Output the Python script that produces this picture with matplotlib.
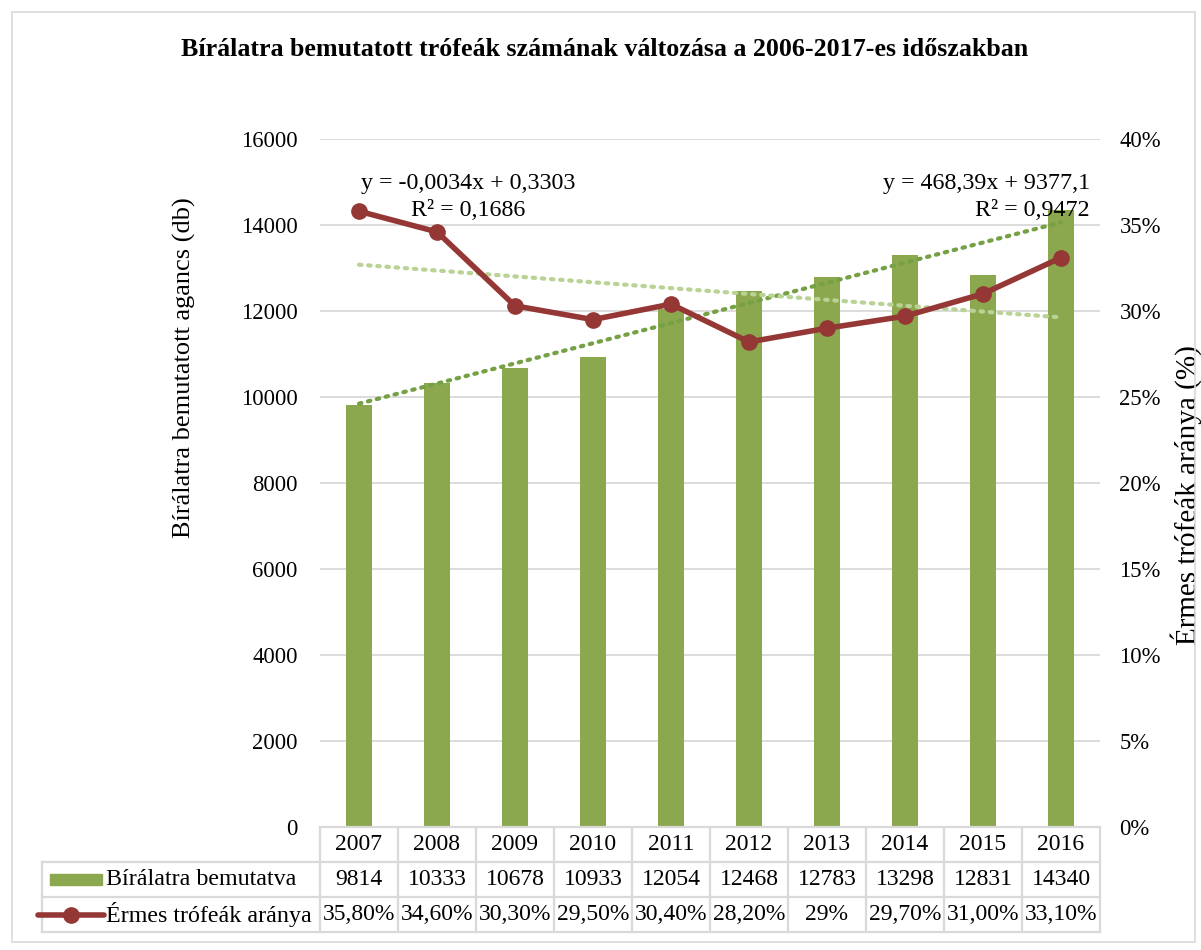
import matplotlib
matplotlib.use("Agg")
import matplotlib.pyplot as plt
import numpy as np

plt.rcParams['font.family'] = ['Liberation Serif', 'DejaVu Serif']

years = ['2007', '2008', '2009', '2010', '2011', '2012', '2013', '2014', '2015', '2016']
bemutatva = [9814, 10333, 10678, 10933, 12054, 12468, 12783, 13298, 12831, 14340]
ermes = [0.358, 0.346, 0.303, 0.295, 0.304, 0.282, 0.29, 0.297, 0.31, 0.331]
ermes_txt = ['35,80%', '34,60%', '30,30%', '29,50%', '30,40%', '28,20%', '29%', '29,70%', '31,00%', '33,10%']

bar_col = '#8ba84e'
line_col = '#953735'
trend_dark = '#76a044'
trend_light = '#b8d394'
grid_col = '#d9d9d9'

fig = plt.figure(figsize=(12.01, 9.5), dpi=100)
# outer chart border
fig.patches.append(plt.Rectangle((12/1201, 8/950), 1183/1201, 930/950, transform=fig.transFigure,
                                 fill=False, edgecolor=grid_col, linewidth=1.2))

ax = fig.add_axes([320/1201, 123/950, 780/1201, 688/950])
x = np.arange(len(years))
ax.bar(x, bemutatva, width=0.33, color=bar_col, zorder=2)
ax.set_xlim(-0.5, 9.5)
ax.set_ylim(0, 16000)
ax.set_yticks(np.arange(0, 16001, 2000))
ax.tick_params(axis='y', length=0, labelsize=16.3, pad=16)
ax.set_xticks([])
ax.grid(axis='y', color=grid_col, linewidth=1.3, zorder=0)
for s in ax.spines.values():
    s.set_visible(False)
ax.set_ylabel('Bírálatra bemutatott agancs (db)', fontsize=19, va='center')
ax.yaxis.set_label_coords(-136/780, (827 - 368) / 688)

# linear trend for bars (x = 1..10)
n = np.arange(1, len(years) + 1)
k1, b1 = np.polyfit(n, bemutatva, 1)
ax.plot(x, k1 * n + b1, linestyle=(0, (0.6, 1.6)), dash_capstyle='round', color=trend_dark, linewidth=3, zorder=3)

ax2 = ax.twinx()
ax2.set_ylim(0, 0.4)
ax2.set_yticks(np.arange(0, 0.41, 0.05))
ax2.set_yticklabels([f'{int(round(v*100))}%' for v in np.arange(0, 0.41, 0.05)])
ax2.tick_params(axis='y', length=0, labelsize=16.3, pad=14)
for s in ax2.spines.values():
    s.set_visible(False)
ax2.set_ylabel('Érmes trófeák aránya (%)', fontsize=21, va='center')
ax2.yaxis.set_label_coords(1 + 86/780, (827 - 495) / 688)

k2, b2 = np.polyfit(n, ermes, 1)
ax2.plot(x, k2 * n + b2, linestyle=(0, (0.6, 1.6)), dash_capstyle='round', color=trend_light, linewidth=3, zorder=2)
ax2.plot(x, ermes, color=line_col, linewidth=4, marker='o', markersize=11, zorder=4)

# trend equations
eq_fs = 17.3
ax.text(1.4, 1 - 44/688, f'y = {k2:.4f}x + {b2:.4f}'.replace('.', ','), transform=ax.get_xaxis_transform(),
        ha='center', va='center', fontsize=eq_fs)
ax.text(1.4, 1 - 72/688, 'R² = 0,1686', transform=ax.get_xaxis_transform(),
        ha='center', va='center', fontsize=eq_fs)
ax.text(9.37, 1 - 44/688, f'y = {k1:.2f}x + {b1:.1f}'.replace('.', ','), transform=ax.get_xaxis_transform(),
        ha='right', va='center', fontsize=eq_fs)
ax.text(9.37, 1 - 72/688, 'R² = 0,9472', transform=ax.get_xaxis_transform(),
        ha='right', va='center', fontsize=eq_fs)

# data table below the plot
tr = ax.get_xaxis_transform()
rh = 35 / 688
left = (42 - 320) / 78 - 0.5
lw = 1.6
ys = [0, -rh, -2 * rh, -3 * rh]
ax.plot([-0.5, 9.5], [0, 0], color=grid_col, lw=lw, transform=tr, clip_on=False)
for yy in ys[1:]:
    ax.plot([left, 9.5], [yy, yy], color=grid_col, lw=lw, transform=tr, clip_on=False)
for i in range(len(years) + 1):
    ax.plot([i - 0.5, i - 0.5], [0, ys[3]], color=grid_col, lw=lw, transform=tr, clip_on=False)
ax.plot([left, left], [ys[1], ys[3]], color=grid_col, lw=lw, transform=tr, clip_on=False)

tfs = 17
for i in range(len(years)):
    ax.text(i, -0.5 * rh, years[i], transform=tr, ha='center', va='center', fontsize=tfs)
    ax.text(i, -1.5 * rh, str(bemutatva[i]), transform=tr, ha='center', va='center', fontsize=tfs)
    ax.text(i, -2.5 * rh, ermes_txt[i], transform=tr, ha='center', va='center', fontsize=tfs)

# legend keys
key_l = (50 - 320) / 78 - 0.5
key_r = (102 - 320) / 78 - 0.5
ax.add_patch(plt.Rectangle((key_l, -1.5 * rh - 5.5/688), key_r - key_l, 11/688, transform=tr,
                           color=bar_col, clip_on=False))
line_l = (38 - 320) / 78 - 0.5
line_r = (104 - 320) / 78 - 0.5
ax.plot([line_l, line_r], [-2.5 * rh, -2.5 * rh], color=line_col, lw=4, transform=tr, clip_on=False,
        solid_capstyle='round')
ax.plot([(line_l + line_r) / 2], [-2.5 * rh], marker='o', markersize=11, color=line_col, transform=tr,
        clip_on=False)
txt_x = (106 - 320) / 78 - 0.5
ax.text(txt_x, -1.5 * rh, 'Bírálatra bemutatva', transform=tr, ha='left', va='center', fontsize=17.3)
ax.text(txt_x, -2.5 * rh, 'Érmes trófeák aránya', transform=tr, ha='left', va='center', fontsize=17.3)

fig.text(605/1201, 1 - 50/950, 'Bírálatra bemutatott trófeák számának változása a 2006-2017-es időszakban',
         ha='center', va='center', fontsize=18.7, fontweight='bold')

fig.savefig('out.png', dpi=100)
